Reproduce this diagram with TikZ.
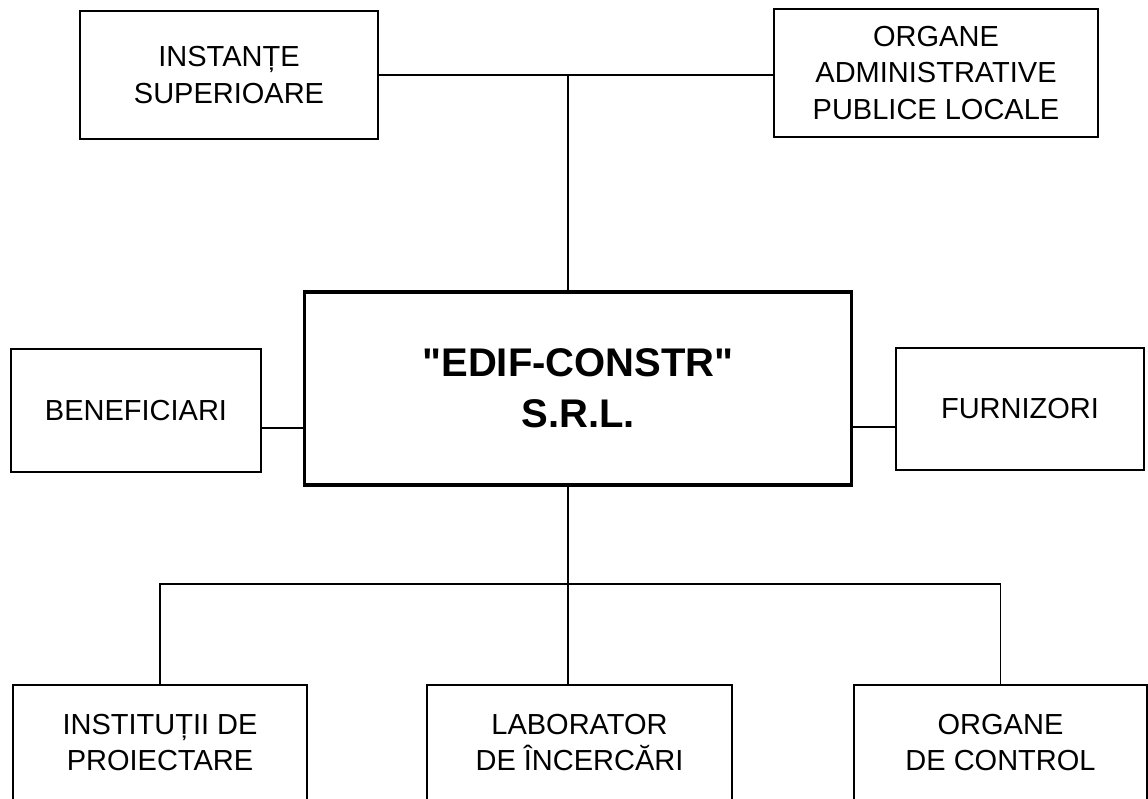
\documentclass[tikz,border=0pt]{standalone}
\usepackage{fontspec}
\setmainfont{Liberation Sans}
\usepackage{tikz}
\usetikzlibrary{calc,positioning}

\begin{document}
\begin{tikzpicture}[x=1pt,y=-1pt,
    box/.style={draw,line width=1.6pt,inner sep=0pt,align=center,
      font=\fontsize{29}{36.5}\selectfont},
    mainbox/.style={box,line width=3.2pt,font=\bfseries\fontsize{40}{51}\selectfont}]
  \fill[white] (0,0) rectangle (1148,799);
  \useasboundingbox (0,0) rectangle (1148,799);
  % top row
  \node[box,minimum width=298pt,minimum height=128pt] (inst) at (229,75) {INSTANȚE\\SUPERIOARE};
  \node[box,minimum width=324pt,minimum height=128pt] (admin) at (936,73) {ORGANE\\ADMINISTRATIVE\\PUBLICE LOCALE};
  % middle row
  \node[mainbox,minimum width=547pt,minimum height=193pt] (firma) at (578,388.5) {\textquotedbl EDIF-CONSTR\textquotedbl\\S.R.L.};
  \node[box,minimum width=250pt,minimum height=123pt] (benef) at (136,410.5) {BENEFICIARI};
  \node[box,minimum width=248pt,minimum height=122pt] (furn) at (1020,409) {FURNIZORI};
  % bottom row
  \foreach \name/\x/\w/\txt in {proiect/160/294/{INSTITUȚII DE\\PROIECTARE},
      lab/579.5/305/{LABORATOR\\DE ÎNCERCĂRI},
      control/1000.5/293/{ORGANE\\DE CONTROL}}{
    \node[box,minimum width=\w pt,minimum height=115pt] (\name) at (\x,742.5) {\txt};
  }
  % connectors
  \coordinate (topj) at (568,75);
  \coordinate (botj) at (568,584);
  \coordinate (lj) at (261,428);
  \coordinate (rj) at (896,427);
  \draw[line width=1.6pt] (inst.east |- topj) -- (admin.west |- topj);
  \draw[line width=1.6pt] (topj) -- (topj |- firma.north);
  \draw[line width=1.6pt] (lj) -- (lj -| firma.west);
  \draw[line width=1.6pt] (rj) -- (rj -| firma.east);
  \draw[line width=1.6pt] (botj |- firma.south) -- (botj |- lab.north);
  \draw[line width=1.6pt] (proiect.north) -- (proiect.north |- botj) -- (control.north |- botj) -- (control.north);
\end{tikzpicture}
\end{document}
